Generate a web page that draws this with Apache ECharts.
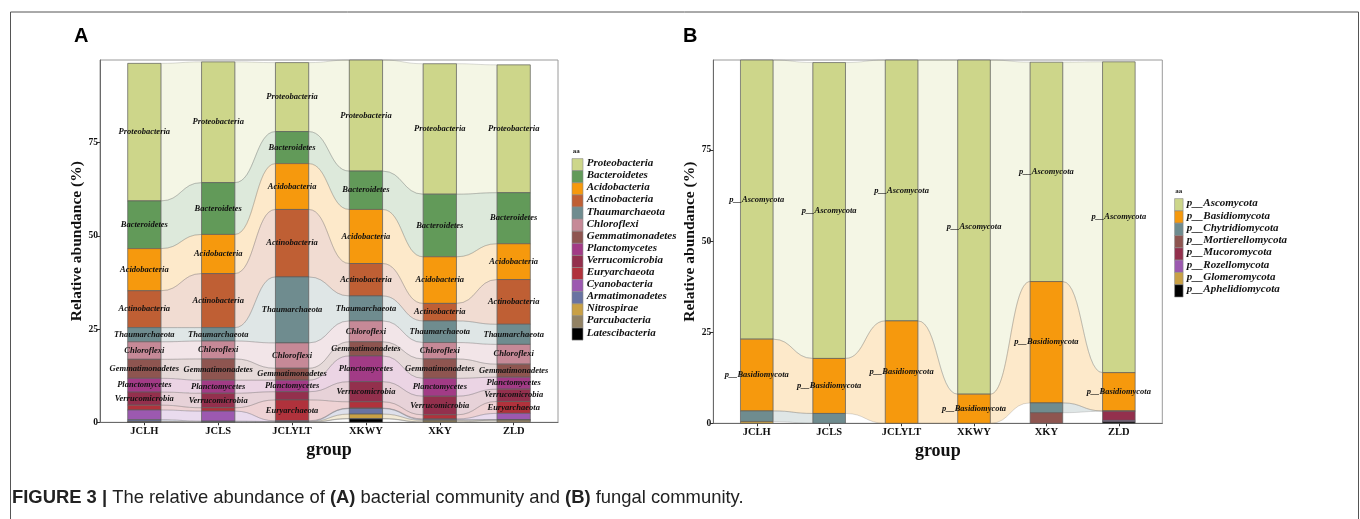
<!DOCTYPE html>
<html>
<head>
<meta charset="utf-8">
<script src="https://cdn.jsdelivr.net/npm/echarts@6/dist/echarts.min.js"></script>
<style>
  html, body { margin: 0; padding: 0; background: #ffffff; }
  #chart { width: 1360px; height: 519px; }
</style>
</head>
<body>
<div id="chart"></div>
<script>
// Sampling groups (x axis of both panels)
const groups = ['JCLH', 'JCLS', 'JCLYLT', 'XKWY', 'XKY', 'ZLD'];
const yTicks = [0, 25, 50, 75];

// Panel A: bacterial phyla, relative abundance (%) per group
const bacteriaNames = ['Proteobacteria', 'Bacteroidetes', 'Acidobacteria', 'Actinobacteria', 'Thaumarchaeota',
  'Chloroflexi', 'Gemmatimonadetes', 'Planctomycetes', 'Verrucomicrobia', 'Euryarchaeota',
  'Cyanobacteria', 'Armatimonadetes', 'Nitrospirae', 'Parcubacteria', 'Latescibacteria'];
const proteobacteria   = [36.9, 32.4, 18.5, 29.8, 35.0, 34.3];
const bacteroidetes    = [12.8, 13.9, 8.6, 10.3, 16.8, 13.7];
const acidobacteria    = [11.3, 10.5, 12.3, 14.5, 12.5, 9.6];
const actinobacteria   = [9.9, 14.5, 18.1, 8.7, 4.7, 12.0];
const thaumarchaeota   = [3.8, 3.6, 17.7, 6.7, 5.8, 5.4];
const chloroflexi      = [4.7, 4.8, 6.8, 5.6, 4.4, 5.3];
const gemmatimonadetes = [5.1, 5.7, 3.2, 3.8, 5.2, 3.5];
const planctomycetes   = [3.7, 3.5, 3.1, 6.9, 4.8, 3.2];
const verrucomicrobia  = [3.5, 3.9, 2.2, 5.4, 5.0, 3.3];
const euryarchaeota    = [1.3, 0.9, 5.6, 1.7, 1.1, 3.2];
const cyanobacteria    = [2.6, 2.7, 0.2, 0.1, 0.2, 1.7];
const armatimonadetes  = [0.45, 0.2, 0.1, 1.5, 0.2, 0.05];
const nitrospirae      = [0.1, 0.05, 0.05, 1.2, 0.4, 0.05];
const parcubacteria    = [0.1, 0.05, 0.05, 0.1, 0.1, 0.6];
const latescibacteria  = [0.05, 0, 0, 0.9, 0, 0];
const bacteriaValues = [proteobacteria, bacteroidetes, acidobacteria, actinobacteria, thaumarchaeota,
  chloroflexi, gemmatimonadetes, planctomycetes, verrucomicrobia, euryarchaeota,
  cyanobacteria, armatimonadetes, nitrospirae, parcubacteria, latescibacteria];
const bacteriaColors = ['#cdd68a', '#629a59', '#f6990d', '#bf5f34', '#6f8c8f', '#c68997', '#8e5550',
  '#a23b86', '#93304d', '#b0323c', '#9c59b0', '#6973a2', '#c9a045', '#928264', '#000000'];

// Panel B: fungal phyla, relative abundance (%) per group
const fungiNames = ['p__Ascomycota', 'p__Basidiomycota', 'p__Chytridiomycota', 'p__Mortierellomycota',
  'p__Mucoromycota', 'p__Rozellomycota', 'p__Glomeromycota', 'p__Aphelidiomycota'];
const ascomycota       = [76.6, 81.2, 71.6, 91.7, 60.2, 85.3];
const basidiomycota    = [19.7, 15.1, 28.1, 8.0, 33.3, 10.5];
const chytridiomycota  = [2.9, 2.7, 0, 0, 2.7, 0.1];
const mortierellomycota = [0, 0, 0, 0, 2.9, 0];
const mucoromycota     = [0, 0, 0, 0, 0, 2.5];
const rozellomycota    = [0, 0, 0, 0, 0, 0.4];
const glomeromycota    = [0.5, 0, 0, 0, 0, 0];
const aphelidiomycota  = [0, 0, 0, 0, 0, 0.4];
const fungiValues = [ascomycota, basidiomycota, chytridiomycota, mortierellomycota,
  mucoromycota, rozellomycota, glomeromycota, aphelidiomycota];
const fungiColors = ['#cdd68a', '#f6990d', '#6f8c8f', '#8e5550', '#93304d', '#9c59b0', '#c9a045', '#000000'];

// ---- layout helpers ----
const HALF = 0.225;          // half bar width in category units
const LABEL_MIN = 3;         // strata at least this large get a name label
const SERIF = '"Liberation Serif", "Times New Roman", serif';
const SANS = '"Liberation Sans", Arial, sans-serif';

// Stack each group bottom-up (last taxon at the bottom, first on top)
function buildStrata(values) {
  const bars = [], flows = [];
  const stacks = groups.map((g, gi) => {
    const out = new Array(values.length);
    let acc = 0;
    for (let t = values.length - 1; t >= 0; t--) {
      const v = values[t][gi];
      out[t] = [acc, acc + v];
      acc += v;
    }
    return out;
  });
  stacks.forEach((st, gi) => {
    st.forEach((seg, t) => {
      if (values[t][gi] > 0) bars.push([gi + 1, seg[0], seg[1], t, values[t][gi]]);
    });
  });
  for (let gi = 0; gi < groups.length - 1; gi++) {
    for (let t = 0; t < values.length; t++) {
      if (values[t][gi] > 0 && values[t][gi + 1] > 0) {
        const a = stacks[gi][t], b = stacks[gi + 1][t];
        flows.push([gi + 1 + HALF, gi + 2 - HALF, a[0], a[1], b[0], b[1], t]);
      }
    }
  }
  const maxTotal = Math.max(...stacks.map(s => s[0][1]));
  return { bars, flows, maxTotal };
}

function hexAlpha(hex, a) {
  const n = parseInt(hex.slice(1), 16);
  return 'rgba(' + ((n >> 16) & 255) + ',' + ((n >> 8) & 255) + ',' + (n & 255) + ',' + a + ')';
}

// Ribbon between two neighbouring strata of the same taxon
function flowRenderer(colors) {
  return function (params, api) {
    const x0 = api.value(0), x1 = api.value(1);
    const pb0 = api.coord([x0, api.value(2)]), pt0 = api.coord([x0, api.value(3)]);
    const pb1 = api.coord([x1, api.value(4)]), pt1 = api.coord([x1, api.value(5)]);
    const t = api.value(6);
    const mx = (pt0[0] + pt1[0]) / 2;
    const d = 'M' + pt0[0] + ' ' + pt0[1] +
      ' C' + mx + ' ' + pt0[1] + ' ' + mx + ' ' + pt1[1] + ' ' + pt1[0] + ' ' + pt1[1] +
      ' L' + pb1[0] + ' ' + pb1[1] +
      ' C' + mx + ' ' + pb1[1] + ' ' + mx + ' ' + pb0[1] + ' ' + pb0[0] + ' ' + pb0[1] + ' Z';
    return {
      type: 'path',
      shape: { pathData: d },
      style: { fill: hexAlpha(colors[t], 0.22), stroke: 'rgba(120,120,120,0.45)', lineWidth: 0.6 }
    };
  };
}

// Stacked stratum box with its taxon name
function barRenderer(colors, names) {
  return function (params, api) {
    const x = api.value(0), y0 = api.value(1), y1 = api.value(2), t = api.value(3), v = api.value(4);
    const p0 = api.coord([x - HALF, y1]);
    const p1 = api.coord([x + HALF, y0]);
    const children = [{
      type: 'rect',
      shape: { x: p0[0], y: p0[1], width: p1[0] - p0[0], height: p1[1] - p0[1] },
      style: { fill: colors[t], stroke: '#5b5b5b', lineWidth: 0.7 }
    }];
    if (v >= LABEL_MIN) {
      children.push({
        type: 'text',
        x: (p0[0] + p1[0]) / 2,
        y: (p0[1] + p1[1]) / 2,
        z2: 10,
        style: {
          text: names[t], align: 'center', verticalAlign: 'middle',
          font: 'italic bold 8.5px ' + SERIF, fill: '#111111'
        }
      });
    }
    return { type: 'group', children };
  };
}

const A = buildStrata(bacteriaValues);
const B = buildStrata(fungiValues);

const grids = [
  { left: 100, top: 60, width: 458, height: 362.3 },
  { left: 713.3, top: 60, width: 449, height: 363.3 }
].map(g => Object.assign(g, { show: true, borderColor: '#9a9a9a', borderWidth: 1, backgroundColor: 'transparent' }));

function xAxis(gridIndex) {
  return {
    type: 'value', gridIndex, min: 0.4, max: groups.length + 0.6,
    name: 'group', nameLocation: 'middle', nameGap: 15,
    nameTextStyle: { fontFamily: SERIF, fontWeight: 'bold', fontSize: 18, color: '#111', padding: [0, 0, 10, 0] },
    axisLine: { show: true, lineStyle: { color: '#6a6a6a', width: 1 } },
    axisTick: { show: true, length: 3, customValues: groups.map((g, i) => i + 1), lineStyle: { color: '#333' } },
    axisLabel: {
      customValues: groups.map((g, i) => i + 1), margin: 3,
      formatter: v => groups[Math.round(v) - 1] || '',
      fontFamily: SERIF, fontWeight: 'bold', fontSize: 10.5, color: '#111'
    },
    splitLine: { show: false }
  };
}
function yAxis(gridIndex, max) {
  return {
    type: 'value', gridIndex, min: 0, max,
    name: 'Relative abundance (%)', nameLocation: 'middle', nameGap: 15, nameRotate: 90,
    nameTextStyle: { fontFamily: SERIF, fontWeight: 'bold', fontSize: 15.5, color: '#111' },
    axisLine: { show: true, lineStyle: { color: '#6a6a6a', width: 1 } },
    axisTick: { show: true, length: 3, customValues: yTicks, lineStyle: { color: '#333' } },
    axisLabel: { customValues: yTicks, margin: 2, fontFamily: SERIF, fontWeight: 'bold', fontSize: 9.5, color: '#111' },
    splitLine: { show: false }
  };
}

// Legend blocks drawn as graphic groups
function legendGraphic(names, colors, left, top, step, keyW) {
  const els = [{
    type: 'text', left: left + 1, top: top - 11,
    style: { text: 'aa', font: 'bold 7px ' + SERIF, fill: '#222' }
  }];
  names.forEach((n, i) => {
    els.push({
      type: 'rect', left, top: top + i * step,
      shape: { width: keyW, height: step },
      style: { fill: colors[i], stroke: '#8a8a8a', lineWidth: 0.6 }
    });
    els.push({
      type: 'text', left: left + keyW + 4, top: top + i * step + step / 2 - 6.5,
      style: { text: n, font: 'italic bold 11px ' + SERIF, fill: '#111' }
    });
  });
  return els;
}

const option = {
  animation: false,
  backgroundColor: '#ffffff',
  grid: grids,
  xAxis: [xAxis(0), xAxis(1)],
  yAxis: [yAxis(0, A.maxTotal), yAxis(1, B.maxTotal)],
  series: [
    { type: 'custom', xAxisIndex: 0, yAxisIndex: 0, z: 1, renderItem: flowRenderer(bacteriaColors), data: A.flows, silent: true },
    { type: 'custom', xAxisIndex: 0, yAxisIndex: 0, z: 2, renderItem: barRenderer(bacteriaColors, bacteriaNames), data: A.bars, silent: true },
    { type: 'custom', xAxisIndex: 1, yAxisIndex: 1, z: 1, renderItem: flowRenderer(fungiColors), data: B.flows, silent: true },
    { type: 'custom', xAxisIndex: 1, yAxisIndex: 1, z: 2, renderItem: barRenderer(fungiColors, fungiNames), data: B.bars, silent: true }
  ],
  graphic: [
    // figure frame
    { type: 'rect', left: 8, top: 9.5, shape: { width: 1348, height: 540 }, style: { fill: 'none', stroke: '#555', lineWidth: 1 }, z: -10 },
    { type: 'text', left: 74, top: 26, style: { text: 'A', font: 'bold 20px ' + SANS, fill: '#000' } },
    { type: 'text', left: 683, top: 26, style: { text: 'B', font: 'bold 20px ' + SANS, fill: '#000' } },
    ...legendGraphic(bacteriaNames, bacteriaColors, 571.7, 158.3, 12.1, 11),
    ...legendGraphic(fungiNames, fungiColors, 1174.3, 198.3, 12.3, 8.5),
    {
      type: 'text', left: 12, top: 489,
      style: {
        text: '{b|FIGURE 3 |} The relative abundance of {b|(A)} bacterial community and {b|(B)} fungal community.',
        font: '18.4px ' + SANS, fill: '#222',
        rich: { b: { fontWeight: 'bold', fontSize: 18.4, fontFamily: SANS, fill: '#222' } }
      }
    }
  ]
};

const chart = echarts.init(document.getElementById('chart'), null, { renderer: 'canvas' });
chart.setOption(option);
</script>
</body>
</html>
